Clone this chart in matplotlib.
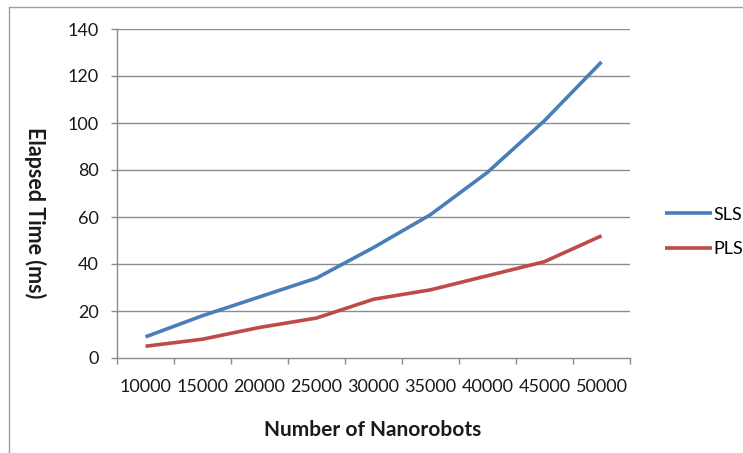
import matplotlib
matplotlib.use("Agg")
import matplotlib.pyplot as plt
from matplotlib.lines import Line2D

categories = ["10000", "15000", "20000", "25000", "30000", "35000", "40000", "45000", "50000"]
sls = [9, 18, 26, 34, 47, 61, 79, 101, 126]
pls = [5, 8, 13, 17, 25, 29, 35, 41, 52]
y_ticks = [0, 20, 40, 60, 80, 100, 120, 140]

W, H = 743, 453
plt.rcParams['font.family'] = ['Lato', 'DejaVu Sans']
fig = plt.figure(figsize=(W / 100, H / 100), dpi=100)
fig.patch.set_facecolor("white")

ax = fig.add_axes([117 / W, 1 - 358 / H, (630 - 117) / W, (358 - 29) / H])
x = list(range(len(categories)))
ax.plot(x, sls, color="#4A7EBB", lw=2.6, solid_joinstyle="round", solid_capstyle="butt", label="SLS", zorder=3)
ax.plot(x, pls, color="#BE4B48", lw=2.6, solid_joinstyle="round", solid_capstyle="butt", label="PLS", zorder=3)

ax.set_xlim(-0.5, len(categories) - 0.5)
ax.set_ylim(0, 140)
ax.set_yticks(y_ticks)
ax.set_yticklabels([str(v) for v in y_ticks])
ax.set_xticks(x)
ax.set_xticklabels(categories)
ax.set_xticks([i - 0.5 for i in range(len(categories) + 1)], minor=True)

grid_c = "#8C8C8C"
for v in y_ticks[1:]:
    ax.axhline(v, color=grid_c, lw=1.0, zorder=1)
for s in ["top", "right"]:
    ax.spines[s].set_visible(False)
for s in ["left", "bottom"]:
    ax.spines[s].set_color(grid_c)
    ax.spines[s].set_linewidth(1.0)

ax.tick_params(axis="x", which="major", length=0, pad=15, labelsize=13, labelcolor="#1a1a1a")
ax.tick_params(axis="x", which="minor", length=4, color=grid_c, width=1.0, direction="out")
ax.tick_params(axis="y", which="major", length=4, color=grid_c, width=1.0, pad=9, labelsize=13, labelcolor="#1a1a1a")

fig.text(373 / W, 1 - 430 / H, "Number of Nanorobots", ha="center", va="center",
         fontsize=15, fontweight="bold", color="#1a1a1a")
fig.text(35 / W, 1 - 213 / H, "Elapsed Time (ms)", ha="center", va="center",
         rotation=270, fontsize=15.5, fontweight="bold", color="#1a1a1a")

ax.legend(loc="center left", bbox_to_anchor=(656 / W, 1 - 232 / H), bbox_transform=fig.transFigure,
          frameon=False, fontsize=13, handlelength=2.6, handletextpad=0.1, labelspacing=1.05,
          borderpad=0)

# figure border (left and top edges visible)
fig.add_artist(Line2D([9 / W, 9 / W], [0, 1 - 7 / H], transform=fig.transFigure, color="#A0A0A0", lw=1.0))
fig.add_artist(Line2D([9 / W, 1], [1 - 7 / H, 1 - 7 / H], transform=fig.transFigure, color="#A0A0A0", lw=1.0))

fig.savefig("out.png", dpi=100, facecolor="white")
